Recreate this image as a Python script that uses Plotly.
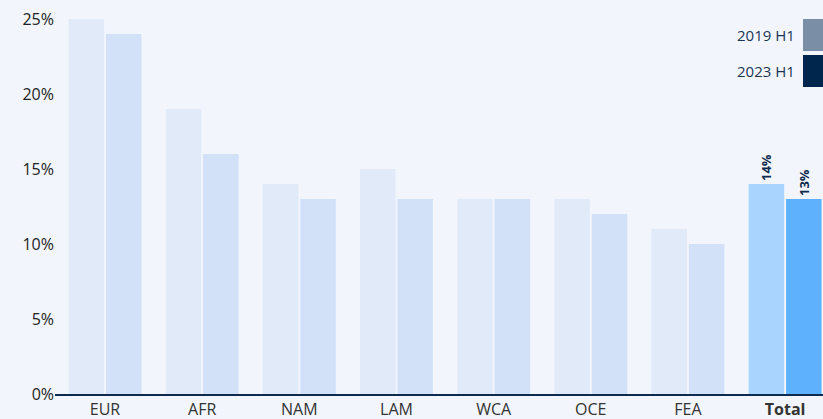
import plotly.graph_objects as go

categories = ["EUR", "AFR", "NAM", "LAM", "WCA", "OCE", "FEA", "Total"]
tick_labels = ["EUR", "AFR", "NAM", "LAM", "WCA", "OCE", "FEA", "<b>Total</b>"]
h1_2019 = [25, 19, 14, 15, 13, 13, 11, 14]
h1_2023 = [24, 16, 13, 13, 13, 12, 10, 13]
y_ticks = [0, 5, 10, 15, 20, 25]

FONT = "Open Sans"
c2019 = ["#e1eaf9"] * 7 + ["#a9d4fd"]
c2023 = ["#d2e1f8"] * 7 + ["#5eb1fd"]
lab2019 = [""] * 7 + [f"<b>{h1_2019[-1]}%</b>"]
lab2023 = [""] * 7 + [f"<b>{h1_2023[-1]}%</b>"]

fig = go.Figure()
fig.add_trace(go.Bar(x=categories, y=h1_2019, name="2019 H1", marker=dict(color=c2019, line=dict(width=0)),
                     text=lab2019, textposition="outside", textangle=-90,
                     textfont=dict(family=FONT, size=13, color="#0d2a4f"), cliponaxis=False))
fig.add_trace(go.Bar(x=categories, y=h1_2023, name="2023 H1", marker=dict(color=c2023, line=dict(width=0)),
                     text=lab2023, textposition="outside", textangle=-90,
                     textfont=dict(family=FONT, size=13, color="#0d2a4f"), cliponaxis=False))

fig.update_layout(
    width=823, height=419,
    margin=dict(l=55, r=0, t=19, b=25),
    paper_bgcolor="#f2f6fc", plot_bgcolor="#f2f6fc",
    barmode="group", bargap=0.23, bargroupgap=0.05,
    showlegend=False,
    font=dict(family=FONT, size=16, color="#222222"),
    xaxis=dict(type="category", tickvals=categories, ticktext=tick_labels, range=[-0.515, 7.39],
               showline=True, linecolor="#0d2a4f", linewidth=2, showgrid=False, ticks="",
               tickfont=dict(family=FONT, size=16, color="#333333"), automargin=False),
    yaxis=dict(range=[0, 25], tickvals=y_ticks, ticktext=[f"{v}%" for v in y_ticks],
               showgrid=False, zeroline=False, showline=False, ticks="",
               tickfont=dict(family=FONT, size=16, color="#222222"), automargin=False),
)

legend_items = [("2019 H1", "#7a8ea6", 19, 51), ("2023 H1", "#00264d", 55, 87)]
for name, col, y0, y1 in legend_items:
    fig.add_shape(type="rect", xref="paper", yref="paper",
                  x0=(803 - 55) / 768, x1=1.0,
                  y0=1 - (y1 - 19) / 375, y1=1 - (y0 - 19) / 375,
                  fillcolor=col, line=dict(width=0))
    fig.add_annotation(text=name, xref="paper", yref="paper",
                       x=(797 - 55) / 768, y=1 - ((y0 + y1) / 2 - 19) / 375,
                       xanchor="right", yanchor="middle", showarrow=False,
                       font=dict(family=FONT, size=15, color="#1a3555"))

fig.write_html("out.html", config={"displayModeBar": False},
               post_script="document.body.style.margin='0';document.body.style.padding='0';document.body.style.overflow='hidden';")
